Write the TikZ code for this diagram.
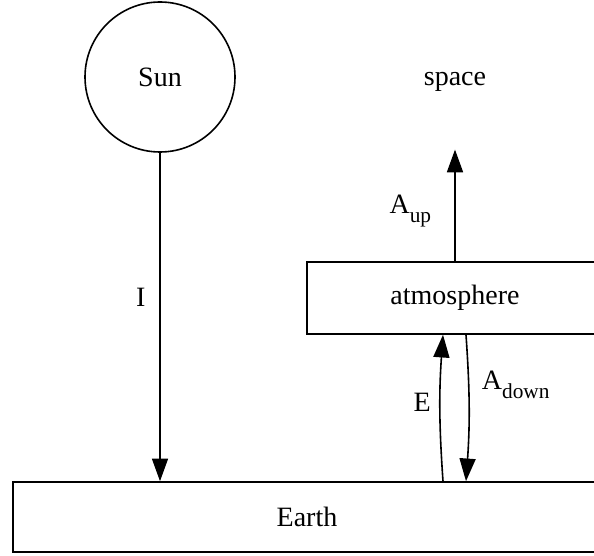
\documentclass[tikz,border=0pt]{standalone}
\usepackage{fontspec}
\setmainfont{Liberation Serif}
\usetikzlibrary{positioning, arrows.meta, shapes.geometric}

\tikzset{
  boite/.style={draw, line width=1.2pt, rectangle, inner sep=0pt},
  fleche/.style={line width=1.2pt, -{Triangle[length=17pt,width=12pt]}},
}
\newcommand{\indice}[1]{\raisebox{-0.65ex}{\fontsize{16}{16}\selectfont #1}}

\begin{document}
\begin{tikzpicture}[x=0.75pt, y=-0.75pt, font=\fontsize{21}{25}\selectfont]
    \useasboundingbox (0,0) rectangle (594,556);
    % Noeuds
    \node[draw, circle, line width=1.2pt, minimum size=112.5pt] (soleil) at (160,77) {Sun};
    \node[minimum height=101pt, inner sep=0pt] (espace) at (455,82) {space};
    \node[boite, minimum width=222pt, minimum height=54pt] (atmo) at (455,298) {atmosphere};
    \node[boite, minimum width=441pt, minimum height=52.5pt] (terre) at (307,517) {Earth};
    % Fleches
    \draw[fleche] (soleil) -- (soleil |- terre.north) node[pos=0.44, left=7pt] {I};
    \draw[fleche] (atmo) -- (espace) node[pos=0.45, left=14pt] {A\indice{up}};
    \draw[fleche] ([xshift=-9pt]atmo.south |- terre.north) to[bend left=4] node[pos=0.54, left=3pt] {E} ([xshift=-9pt]atmo.south);
    \draw[fleche] ([xshift=8.25pt]atmo.south) to[bend left=4] node[pos=0.33, right=6pt] {A\indice{down}} ([xshift=8.25pt]atmo.south |- terre.north);
\end{tikzpicture}
\end{document}
